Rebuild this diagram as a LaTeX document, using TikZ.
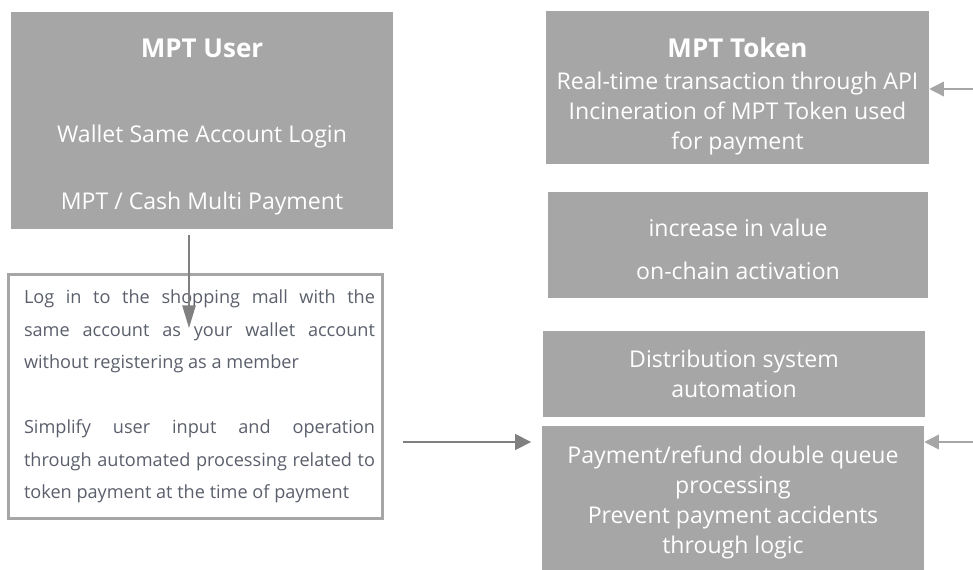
\documentclass[tikz,border=0pt]{standalone}
\usepackage{fontspec}
\setmainfont{Open Sans}
\usetikzlibrary{arrows.meta}

\definecolor{boxgray}{HTML}{A6A6A6}
\definecolor{notegray}{HTML}{5A5F6B}
\definecolor{arrgray}{HTML}{808080}

\def\boxfont{\fontsize{17.3}{22.5}\selectfont}
\def\titlefont{\fontsize{19.5}{22.5}\selectfont\bfseries}
\def\notefont{\fontsize{13.6}{24.4}\selectfont\hyphenpenalty=10000}

\tikzset{
  card/.style={fill=boxgray, inner sep=0pt},
  cardtxt/.style={text=white, align=center, inner sep=0pt, font=\boxfont},
  note/.style={draw=boxgray, line width=2.25pt, text=notegray, inner sep=0pt, font=\notefont},
  darr/.style={draw=arrgray, line width=1.2pt, -{Triangle[length=12pt,width=12pt]}},
  longarr/.style={draw=arrgray, line width=1.2pt, -{Triangle[length=17pt,width=10pt]}},
  larr/.style={draw=boxgray, line width=1.2pt, -{Triangle[length=11pt,width=11pt]}}
}

\begin{document}
\begin{tikzpicture}[x=0.75pt, y=-0.75pt]
\useasboundingbox (0,0) rectangle (973,570);

% left column
\node[card, minimum width=286.5pt, minimum height=162.75pt] (user) at (202,120.5) {};
\node[cardtxt] (usertxt) at ([yshift=-4.5pt]user.center)
  {{\titlefont MPT User}\\[41.25pt] Wallet Same Account Login\\[27.75pt] MPT / Cash Multi Payment};
\node[note, minimum width=280.5pt, minimum height=183pt, text width=269.25pt, align=justify] (login) at (195.5,396.5)
  {\leftskip=6pt Log in to the shopping mall with the\linebreak same account as your wallet account\linebreak without registering as a member\par\vspace{24.4pt}
   \leftskip=6pt Simplify user input and operation\linebreak through automated processing related to\linebreak token payment at the time of payment\par};

% right column
\node[card, minimum width=287.25pt, minimum height=114.75pt] (token) at (737.5,87.5) {};
\node[cardtxt] (tokentxt) at ([yshift=-6.5pt]token.center)
  {{\titlefont MPT Token}\\[1.5pt] Real-time transaction through API\\ Incineration of MPT Token used\\ for payment};
\node[card, minimum width=285pt, minimum height=79.5pt] (value) at (738,245) {};
\node[cardtxt] (valuetxt) at ([yshift=-3pt]value.center)
  {increase in value\\[9.75pt] on-chain activation};
\node[card, minimum width=286.5pt, minimum height=64.5pt] (dist) at (734,374) {};
\node[cardtxt] (disttxt) at (dist.center)
  {Distribution system\\ automation};
\node[card, minimum width=286.5pt, minimum height=108pt] (pay) at (733,498) {};
\node[cardtxt] (paytxt) at ([yshift=-3pt]pay.center)
  {Payment/refund double queue\\ processing\\ Prevent payment accidents\\ through logic};

% connectors
\coordinate (downtip) at (189,328);
\coordinate (rowA) at (973,89);
\coordinate (rowB) at (973,442);
\draw[longarr, shorten <=4.5pt] (user.south -| downtip) -- (downtip);
\draw[darr, shorten <=14pt, shorten >=8pt] (login.east |- rowB) -- (pay.west |- rowB);
\draw[larr] (rowA) -- (token.east |- rowA);
\draw[larr] (rowB) -- (pay.east |- rowB);
\end{tikzpicture}
\end{document}
